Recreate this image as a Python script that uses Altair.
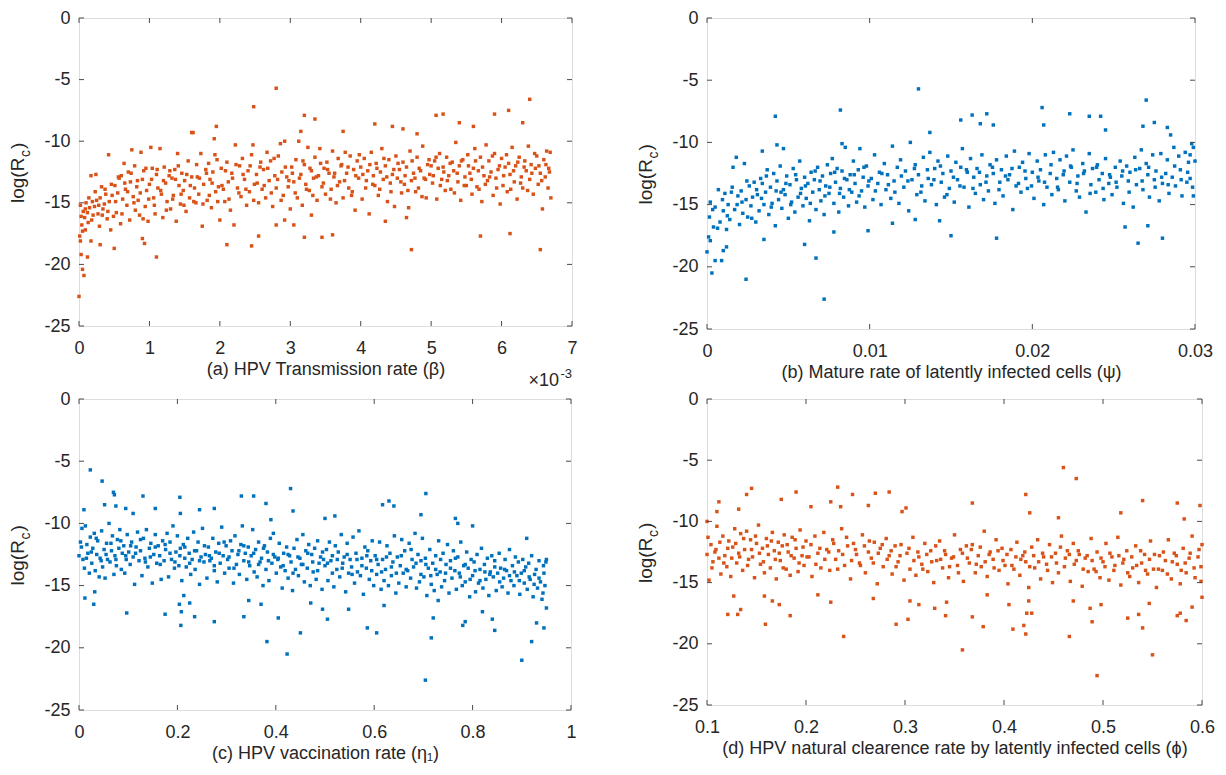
import altair as alt
import pandas as pd

FONT = "Liberation Sans"
TXT = "#262626"
AXC = "#4a4a4a"
ORANGE = "#D95319"
BLUE = "#0072BD"

Y_TICKS = [-25, -20, -15, -10, -5, 0]
A_XTICKS = [0, 1, 2, 3, 4, 5, 6, 7]
B_XTICKS = [0, 0.01, 0.02, 0.03]
C_XTICKS = [0, 0.2, 0.4, 0.6, 0.8, 1]
D_XTICKS = [0.1, 0.2, 0.3, 0.4, 0.5, 0.6]

A_TITLE = "(a) HPV Transmission rate (β)"
B_TITLE = "(b) Mature rate of latently infected cells (ψ)"
C_TITLE = "(c) HPV vaccination rate (η₁)"
D_TITLE = "(d) HPV natural clearence rate by latently infected cells (ϕ)"
Y_MAIN = "log(R"
Y_SUB = "c"
Y_CLOSE = ")"
A_SCALE_MAIN = "×10"
A_SCALE_EXP = "-3"

# panel (a): x in units of 1e-3
A_POINTS = [
    (0.02,-15.2),(0.03,-16.1),(0.05,-17.3),(0.06,-15.7),(0.08,-16.2),(0.1,-15.0),(0.12,-15.8),(0.13,-16.6),(0.15,-15.4),(0.17,-12.8),
    (0.19,-14.9),(0.2,-16.0),(0.22,-15.3),(0.24,-12.7),(0.25,-14.8),(0.27,-15.9),(0.29,-16.9),(0.3,-14.6),(0.32,-13.7),(0.34,-15.5),
    (0.36,-15.1),(0.38,-14.3),(0.4,-16.3),(0.42,-11.1),(0.43,-14.9),(0.45,-17.2),(0.47,-14.4),(0.49,-16.1),
    (0.51,-13.6),(0.53,-15.8),(0.55,-14.2),(0.57,-13.0),(0.59,-16.7),(0.6,-12.8),(0.62,-14.7),(0.64,-11.8),(0.66,-13.9),(0.68,-15.2),
    (0.7,-12.5),(0.72,-16.4),(0.73,-13.3),(0.75,-10.7),(0.77,-14.5),(0.79,-12.0),(0.8,-15.6),(0.82,-13.7),(0.84,-14.8),(0.86,-16.0),
    (0.88,-10.9),(0.9,-13.1),(0.92,-12.4),(0.94,-15.3),(0.96,-14.0),(0.98,-16.5),
    (1.0,-13.5),(1.02,-10.5),(1.04,-12.2),(1.06,-14.6),(1.08,-15.9),(1.1,-12.7),(1.12,-13.8),(1.15,-10.6),(1.17,-14.3),(1.19,-16.2),
    (1.21,-12.1),(1.23,-13.4),(1.25,-14.9),(1.28,-12.8),(1.3,-15.5),(1.32,-13.0),(1.34,-14.4),(1.36,-12.3),(1.38,-16.5),(1.4,-11.0),
    (1.42,-13.6),(1.44,-15.1),(1.46,-12.6),(1.48,-14.0),
    (1.5,-13.2),(1.52,-15.7),(1.55,-11.6),(1.57,-14.6),(1.6,-12.9),(1.62,-9.3),(1.64,-13.8),(1.66,-15.0),(1.68,-12.9),(1.7,-14.3),
    (1.73,-11.0),(1.75,-16.9),(1.77,-13.5),(1.8,-12.3),(1.82,-14.8),(1.84,-11.8),(1.86,-13.1),(1.88,-15.4),(1.9,-12.5),(1.92,-9.8),
    (1.94,-14.1),(1.96,-11.5),(1.98,-13.7),
    (2.0,-16.4),(2.02,-12.2),(2.05,-13.9),(2.07,-14.9),(2.1,-11.7),(2.12,-13.3),(2.15,-15.6),(2.17,-12.6),(2.2,-16.8),(2.22,-10.3),
    (2.25,-13.8),(2.28,-12.0),(2.3,-14.5),(2.32,-11.4),(2.35,-13.1),(2.38,-15.2),(2.4,-12.4),(2.42,-14.1),(2.45,-11.1),(2.47,-10.3),(2.49,-13.5),
    (2.52,-12.7),(2.55,-15.0),(2.58,-11.7),(2.6,-13.9),(2.62,-12.3),(2.65,-14.6),(2.67,-10.9),(2.7,-13.2),(2.72,-11.6),(2.75,-15.3),
    (2.78,-12.8),(2.8,-13.8),(2.83,-11.2),(2.86,-10.2),(2.88,-12.5),(2.9,-14.4),(2.92,-10.0),(2.95,-12.9),(2.97,-13.7),
    (3.0,-15.5),(3.02,-12.1),(3.05,-13.3),(3.08,-11.5),(3.1,-14.6),(3.12,-10.0),(3.15,-12.7),(3.17,-15.2),(3.2,-11.9),(3.22,-13.5),
    (3.25,-10.5),(3.27,-14.0),(3.3,-12.4),(3.33,-13.0),(3.35,-11.3),(3.38,-14.8),(3.4,-12.8),(3.42,-10.6),(3.45,-13.7),(3.48,-12.2),
    (3.5,-14.3),(3.52,-11.7),(3.55,-12.6),(3.58,-13.9),(3.6,-10.8),(3.62,-12.9),(3.65,-15.0),(3.68,-11.4),(3.7,-13.3),(3.72,-12.0),
    (3.75,-14.6),(3.78,-10.9),(3.8,-12.6),(3.83,-13.8),(3.85,-11.2),(3.88,-14.1),(3.9,-12.3),(3.92,-15.6),(3.95,-11.6),(3.97,-13.0),
    (4.0,-12.1),(4.02,-14.7),(4.05,-11.4),(4.08,-13.2),(4.1,-12.4),(4.12,-15.9),(4.15,-10.9),(4.18,-12.8),(4.2,-13.6),(4.22,-11.8),
    (4.25,-14.4),(4.28,-12.5),(4.3,-10.6),(4.32,-13.1),(4.35,-12.0),(4.38,-14.9),(4.4,-11.5),(4.42,-13.4),(4.45,-12.7),(4.48,-15.3),
    (4.5,-11.2),(4.52,-13.0),(4.55,-12.3),(4.58,-14.2),(4.6,-11.7),(4.62,-13.5),(4.65,-12.1),(4.68,-15.4),(4.7,-10.8),(4.72,-13.2),
    (4.75,-12.6),(4.78,-14.1),(4.8,-11.3),(4.82,-13.8),(4.85,-12.4),(4.88,-10.4),(4.9,-13.0),(4.93,-14.6),(4.95,-11.9),(4.98,-12.7),
    (5.0,-12.0),(5.02,-13.4),(5.05,-11.6),(5.08,-14.7),(5.1,-12.2),(5.12,-11.0),(5.15,-13.1),(5.18,-12.5),(5.2,-14.0),(5.22,-11.3),
    (5.25,-12.8),(5.28,-13.9),(5.3,-11.7),(5.32,-12.4),(5.35,-10.1),(5.38,-13.3),(5.4,-12.0),(5.42,-14.8),(5.45,-11.5),(5.48,-12.9),
    (5.5,-13.6),(5.52,-11.1),(5.55,-12.6),(5.58,-14.3),(5.6,-12.2),(5.62,-10.6),(5.65,-13.7),(5.67,-12.4),(5.7,-11.3),(5.72,-14.9),
    (5.75,-12.8),(5.78,-10.3),(5.8,-13.2),(5.82,-11.6),(5.85,-12.5),(5.88,-14.4),(5.9,-11.0),(5.92,-13.0),(5.95,-12.3),(5.98,-15.1),
    (6.0,-11.4),(6.02,-13.6),(6.05,-12.1),(6.08,-14.1),(6.1,-11.8),(6.12,-12.7),(6.15,-10.5),(6.18,-13.3),(6.2,-12.0),(6.22,-14.7),
    (6.25,-11.3),(6.28,-12.9),(6.3,-13.8),(6.33,-11.6),(6.35,-12.4),(6.38,-10.4),(6.4,-13.1),(6.42,-11.9),(6.45,-14.3),(6.48,-12.2),
    (6.5,-11.2),(6.52,-13.5),(6.55,-12.6),(6.58,-15.5),(6.6,-11.5),(6.62,-12.9),(6.64,-10.8),(6.66,-13.8),(6.68,-12.5),(6.7,-14.6),
    (0.0,-22.6),(0.01,-17.7),(0.02,-18.1),(0.03,-19.2),(0.05,-20.4),(0.07,-20.9),(0.09,-17.2),(0.12,-19.4),(0.17,-18.1),(0.3,-18.4),
    (0.5,-18.7),(0.9,-17.9),(0.93,-18.3),(1.1,-19.4),(2.1,-18.4),(2.45,-18.5),(2.55,-17.7),(2.48,-7.2),(2.8,-5.7),(2.8,-16.8),
    (2.92,-16.4),(3.05,-16.8),(3.2,-17.8),(3.2,-7.9),(3.35,-8.2),(3.45,-17.8),(3.6,-17.6),(3.75,-9.2),(3.15,-9.2),(4.2,-8.6),
    (4.45,-8.8),(4.6,-9.0),(4.35,-16.5),(4.65,-16.2),(4.72,-18.8),(5.07,-7.9),(5.17,-7.8),(5.4,-8.5),(5.6,-8.8),(5.7,-17.7),
    (5.9,-7.8),(6.1,-7.5),(6.12,-17.5),(6.3,-8.5),(6.4,-6.6),(6.55,-18.8),(1.95,-8.8),(1.6,-9.3),(3.3,-16.0),(4.8,-9.4),
]
A_POINTS_2 = [
    (0.04,-16.8),(0.09,-15.5),(0.14,-14.6),(0.18,-16.4),(0.23,-14.1),(0.28,-15.2),(0.33,-16.0),(0.37,-13.9),(0.41,-15.7),(0.46,-13.5),
    (0.52,-14.9),(0.56,-12.9),(0.61,-15.9),(0.65,-13.4),(0.69,-14.1),(0.74,-12.6),(0.78,-15.0),(0.83,-13.2),(0.87,-14.2),(0.91,-16.3),
    (0.95,-12.2),(0.99,-14.7),(1.03,-13.1),(1.07,-15.2),(1.11,-12.3),(1.16,-14.0),(1.2,-13.2),(1.24,-15.6),(1.29,-12.4),(1.33,-14.7),
    (1.37,-13.1),(1.41,-12.0),(1.45,-14.3),(1.49,-15.2),(1.53,-12.7),(1.58,-13.6),(1.63,-14.9),(1.67,-11.9),(1.71,-13.0),(1.76,-15.1),
    (1.81,-12.6),(1.85,-14.4),(1.89,-13.4),(1.93,-11.1),(1.97,-14.9),(2.03,-13.6),(2.08,-12.4),(2.13,-14.7),(2.18,-13.0),(2.23,-11.9),
    (2.27,-14.2),(2.33,-12.7),(2.37,-13.9),(2.43,-12.0),(2.48,-14.8),(2.53,-13.4),(2.57,-12.1),(2.63,-13.6),(2.68,-12.2),(2.73,-14.2),
    (2.77,-11.4),(2.82,-13.1),(2.87,-14.8),(2.93,-12.1),(2.98,-13.2),(3.03,-12.6),(3.07,-14.2),(3.13,-13.0),(3.18,-11.6),(3.23,-13.9),
    (3.28,-12.2),(3.32,-14.4),(3.37,-12.9),(3.43,-11.8),(3.47,-13.4),(3.53,-12.3),(3.57,-14.7),(3.63,-12.6),(3.67,-13.6),(3.73,-11.9),
    (3.77,-13.2),(3.82,-12.1),(3.87,-14.4),(3.93,-12.8),(3.98,-11.1),(4.03,-12.7),(4.07,-13.8),(4.13,-11.9),(4.17,-13.5),(4.23,-12.2),
    (4.27,-13.9),(4.33,-11.4),(4.37,-12.9),(4.43,-14.1),(4.47,-12.3),(4.53,-11.8),(4.57,-13.3),(4.63,-12.8),(4.67,-14.0),(4.73,-11.6),
    (4.77,-13.0),(4.83,-12.2),(4.87,-14.5),(4.92,-13.1),(4.97,-11.5),(5.03,-12.8),(5.07,-11.3),(5.13,-13.6),(5.17,-12.1),(5.23,-13.2),
    (5.27,-11.8),(5.33,-14.2),(5.37,-12.6),(5.43,-11.6),(5.47,-13.6),(5.53,-12.0),(5.57,-13.1),(5.63,-11.6),(5.68,-13.9),(5.73,-12.1),
    (5.77,-13.5),(5.83,-12.9),(5.87,-11.2),(5.93,-13.8),(5.97,-12.0),(6.03,-12.8),(6.07,-11.1),(6.13,-13.9),(6.17,-12.4),(6.23,-11.7),
    (6.27,-13.4),(6.32,-12.1),(6.37,-14.0),(6.43,-12.6),(6.47,-11.0),(6.53,-12.0),(6.57,-13.2),(6.63,-11.9),(6.67,-12.2),(6.69,-10.9),
]

B_POINTS = [
    (0.0002,-14.8),(0.0004,-16.8),(0.0005,-15.2),(0.0007,-13.8),(0.0008,-16.4),(0.001,-15.5),(0.0011,-14.1),(0.0012,-17.0),(0.0013,-15.0),(0.0014,-16.2),
    (0.0015,-14.0),(0.0016,-12.0),(0.0017,-15.4),(0.0018,-11.2),(0.0019,-14.3),(0.002,-16.6),(0.0021,-13.9),(0.0022,-15.7),(0.0023,-11.7),(0.0024,-14.6),
    (0.0025,-16.0),(0.0026,-13.5),(0.0027,-15.1),(0.0028,-14.4),(0.0029,-13.2),(0.003,-16.4),
    (0.0031,-14.2),(0.0032,-15.5),(0.0033,-12.9),(0.0034,-13.3),(0.0035,-15.0),(0.0036,-14.0),(0.0037,-12.2),(0.0038,-15.8),(0.0039,-13.6),(0.004,-14.9),
    (0.0041,-12.5),(0.0042,-16.7),(0.0043,-13.1),(0.0044,-14.6),(0.0045,-11.9),(0.0046,-15.3),(0.0047,-13.8),(0.0048,-14.2),(0.0049,-12.7),(0.005,-16.1),
    (0.0051,-13.4),(0.0052,-14.8),(0.0053,-12.1),(0.0054,-15.6),(0.0055,-13.0),(0.0056,-14.4),(0.0057,-11.5),(0.0058,-13.7),(0.0059,-15.1),(0.006,-12.8),
    (0.0061,-14.5),(0.0062,-13.3),(0.0063,-16.3),(0.0064,-12.4),(0.0065,-14.0),(0.0066,-13.0),(0.0067,-15.4),(0.0068,-12.0),(0.0069,-13.8),(0.007,-14.7),
    (0.0071,-12.7),(0.0072,-15.8),(0.0073,-13.5),(0.0074,-11.8),(0.0075,-14.1),(0.0076,-12.5),(0.0077,-11.3),(0.0078,-14.9),(0.0079,-13.2),(0.008,-12.1),
    (0.0081,-15.6),(0.0082,-13.7),(0.0083,-12.3),(0.0084,-14.4),(0.0085,-10.4),(0.0086,-13.0),(0.0087,-15.1),(0.0088,-12.6),(0.0089,-14.0),(0.009,-11.5),
    (0.0091,-13.3),(0.0092,-14.8),(0.0093,-12.2),(0.0094,-10.5),(0.0095,-13.9),(0.0096,-12.8),(0.0097,-15.2),(0.0098,-11.9),(0.0099,-13.5),
    (0.0101,-12.9),(0.0102,-14.6),(0.0103,-11.0),(0.0105,-13.3),(0.0106,-12.4),(0.0107,-15.0),(0.0109,-11.7),(0.011,-13.8),(0.0111,-12.6),(0.0113,-14.5),
    (0.0114,-10.3),(0.0115,-13.1),(0.0117,-12.0),(0.0118,-14.9),(0.0119,-11.4),(0.0121,-13.6),(0.0122,-12.3),(0.0124,-15.5),(0.0125,-10.0),(0.0126,-13.0),
    (0.0128,-11.8),(0.0129,-14.2),(0.013,-12.6),(0.0132,-13.5),(0.0133,-11.2),(0.0134,-14.7),(0.0136,-12.9),(0.0137,-10.8),(0.0138,-13.4),(0.014,-12.1),
    (0.0141,-15.0),(0.0142,-11.5),(0.0144,-13.2),(0.0145,-12.5),(0.0146,-14.4),(0.0148,-11.1),(0.0149,-13.7),
    (0.015,-12.3),(0.0152,-14.8),(0.0153,-11.6),(0.0154,-13.0),(0.0156,-12.0),(0.0157,-10.5),(0.0158,-13.6),(0.016,-12.4),(0.0161,-15.2),(0.0162,-11.3),
    (0.0164,-12.8),(0.0165,-14.1),(0.0166,-12.1),(0.0168,-13.4),(0.0169,-11.0),(0.017,-14.6),(0.0172,-12.7),(0.0173,-13.9),(0.0174,-11.8),(0.0176,-12.5),
    (0.0177,-14.9),(0.0178,-11.4),(0.018,-13.2),(0.0181,-12.2),(0.0182,-14.3),(0.0184,-11.1),(0.0185,-13.0),(0.0186,-12.6),(0.0188,-15.4),(0.0189,-10.7),
    (0.019,-13.5),(0.0192,-12.0),(0.0193,-14.0),(0.0194,-11.6),(0.0196,-12.9),(0.0197,-13.7),(0.0198,-10.9),
    (0.02,-12.4),(0.0201,-14.5),(0.0203,-11.5),(0.0204,-13.1),(0.0205,-12.2),(0.0207,-15.0),(0.0208,-11.0),(0.0209,-13.6),(0.0211,-12.5),(0.0212,-14.2),
    (0.0213,-10.8),(0.0215,-12.9),(0.0216,-13.8),(0.0217,-11.4),(0.0219,-12.6),(0.022,-14.7),(0.0221,-11.1),(0.0223,-13.2),(0.0224,-12.0),(0.0225,-10.6),
    (0.0227,-13.9),(0.0228,-12.7),(0.0229,-14.4),(0.0231,-11.7),(0.0232,-12.3),(0.0233,-15.6),(0.0235,-10.9),(0.0236,-13.4),(0.0237,-12.1),(0.0239,-14.0),
    (0.024,-11.8),(0.0241,-13.0),(0.0243,-12.5),(0.0244,-14.6),(0.0245,-11.3),(0.0247,-13.3),(0.0248,-12.8),(0.0249,-14.2),
    (0.0251,-12.0),(0.0252,-13.6),(0.0254,-11.5),(0.0255,-12.7),(0.0256,-14.9),(0.0258,-11.9),(0.0259,-13.1),(0.026,-12.4),(0.0262,-15.2),(0.0263,-11.2),
    (0.0264,-13.4),(0.0266,-12.1),(0.0267,-10.6),(0.0268,-13.8),(0.027,-11.7),(0.0271,-12.6),(0.0272,-14.4),(0.0274,-11.0),(0.0275,-13.0),(0.0276,-12.3),
    (0.0278,-14.7),(0.0279,-10.9),(0.028,-13.3),(0.0282,-12.5),(0.0283,-11.4),(0.0284,-14.1),(0.0286,-12.8),(0.0287,-10.4),(0.0288,-13.5),(0.029,-11.1),
    (0.0291,-12.2),(0.0292,-14.3),(0.0294,-10.8),(0.0295,-13.2),(0.0296,-11.6),(0.0297,-12.9),(0.0298,-10.1),(0.0299,-14.3),(0.03,-11.5),
    (0.0,-18.8),(0.0001,-17.6),(0.0002,-17.9),(0.0003,-20.5),(0.0005,-19.5),(0.0009,-19.5),(0.001,-18.7),(0.0012,-18.4),(0.0024,-21.0),(0.0035,-17.8),
    (0.006,-18.2),(0.0067,-19.3),(0.0072,-22.6),(0.0078,-17.2),(0.0099,-17.1),(0.0114,-16.5),(0.015,-17.5),(0.0178,-17.7),(0.0257,-16.8),(0.0265,-18.1),
    (0.028,-17.7),(0.0271,-16.7),(0.0042,-7.9),(0.0043,-10.2),(0.0047,-10.5),(0.0034,-10.7),(0.0082,-7.4),(0.0083,-10.1),(0.013,-5.7),(0.0137,-9.2),
    (0.0156,-8.2),(0.0163,-7.8),(0.0168,-8.5),(0.0172,-7.7),(0.0176,-8.6),(0.0206,-7.2),(0.0207,-8.6),(0.0223,-7.7),(0.0235,-7.9),(0.0242,-7.9),
    (0.0245,-9.0),(0.027,-6.6),(0.0268,-8.7),(0.0275,-8.4),(0.0283,-8.8),(0.0285,-9.4),(0.0128,-16.2),(0.0143,-16.3),
]
B_POINTS_2 = [
    (0.00015,-16.0),(0.00035,-15.4),(0.00065,-16.9),(0.00095,-14.6),(0.00125,-15.9),(0.00155,-13.6),(0.00185,-15.0),(0.00215,-14.8),(0.00245,-13.1),(0.00275,-16.1),
    (0.00305,-13.8),(0.00335,-14.5),(0.00365,-12.7),(0.00395,-15.2),(0.00425,-13.9),(0.00455,-14.0),(0.00485,-13.3),(0.00515,-15.0),(0.00545,-12.6),(0.00575,-14.1),
    (0.00605,-13.5),(0.00635,-14.9),(0.00665,-12.3),(0.00695,-13.1),(0.00725,-14.3),(0.00755,-13.6),(0.00785,-12.4),(0.00815,-14.1),(0.00845,-12.9),(0.00875,-13.8),
    (0.00905,-12.6),(0.00935,-14.3),(0.00965,-12.0),(0.00995,-13.1),(0.01035,-13.9),(0.01075,-12.5),(0.01115,-13.4),(0.01155,-14.0),(0.01195,-12.7),(0.01235,-13.1),
    (0.01275,-12.1),(0.01315,-14.0),(0.01355,-12.2),(0.01395,-13.0),(0.01435,-11.9),(0.01475,-14.2),(0.01515,-12.8),(0.01555,-13.5),(0.01595,-12.2),(0.01635,-13.7),
    (0.01675,-12.4),(0.01715,-13.2),(0.01755,-12.0),(0.01795,-13.8),(0.01835,-12.7),(0.01875,-12.1),(0.01915,-13.3),(0.01955,-12.3),(0.01995,-13.5),(0.02035,-12.8),
    (0.02075,-13.2),(0.02115,-11.8),(0.02155,-13.6),(0.02195,-12.3),(0.02235,-11.9),(0.02275,-13.3),(0.02315,-12.5),(0.02355,-14.1),(0.02395,-12.0),(0.02435,-13.7),
    (0.02475,-12.6),(0.02515,-13.2),(0.02555,-12.3),(0.02595,-14.0),(0.02635,-12.2),(0.02675,-13.1),(0.02715,-12.0),(0.02755,-13.6),(0.02795,-12.8),(0.02835,-13.4),
    (0.02875,-11.9),(0.02915,-13.0),(0.02955,-12.4),(0.02985,-13.6),(0.0299,-10.4),(0.0297,-11.0),
]

C_POINTS = [
    (0.0,-12.6),(0.003,-11.5),(0.006,-10.4),(0.008,-12.9),(0.011,-13.6),(0.013,-10.2),(0.016,-11.7),(0.018,-12.4),(0.021,-14.0),(0.023,-11.1),
    (0.026,-13.2),(0.028,-12.0),(0.031,-10.8),(0.033,-13.8),(0.036,-12.5),(0.038,-11.4),(0.041,-14.3),(0.043,-12.8),(0.046,-10.6),(0.048,-13.5),
    (0.051,-12.1),(0.053,-14.4),(0.056,-11.6),(0.058,-12.9),(0.061,-10.0),(0.063,-13.1),(0.066,-12.2),(0.068,-11.0),(0.071,-14.1),(0.073,-12.6),
    (0.076,-13.4),(0.078,-11.3),(0.081,-12.0),(0.083,-10.5),(0.086,-13.7),(0.088,-12.4),(0.091,-11.8),(0.093,-14.0),(0.096,-12.9),(0.098,-10.9),
    (0.101,-12.3),(0.104,-13.3),(0.107,-11.5),(0.11,-12.7),(0.113,-14.9),(0.116,-11.9),(0.119,-10.7),(0.122,-13.0),(0.125,-12.2),(0.128,-14.2),
    (0.131,-11.2),(0.134,-12.8),(0.137,-10.5),(0.14,-13.5),(0.143,-12.0),(0.146,-11.6),(0.149,-14.8),(0.152,-12.5),(0.155,-10.9),(0.158,-13.2),
    (0.161,-11.8),(0.164,-12.6),(0.167,-14.5),(0.17,-11.4),(0.173,-13.0),(0.176,-12.1),(0.179,-10.8),(0.182,-14.3),(0.185,-11.5),(0.188,-12.9),
    (0.191,-10.2),(0.194,-13.6),(0.197,-12.3),
    (0.2,-11.0),(0.203,-13.4),(0.206,-12.0),(0.209,-14.6),(0.212,-11.7),(0.215,-12.8),(0.218,-13.5),(0.221,-11.2),(0.224,-12.4),(0.227,-14.1),
    (0.23,-12.9),(0.233,-10.7),(0.236,-13.7),(0.239,-12.2),(0.242,-11.5),(0.245,-14.9),(0.248,-12.7),(0.251,-10.4),(0.254,-13.1),(0.257,-12.5),
    (0.26,-14.4),(0.263,-11.9),(0.266,-13.0),(0.269,-12.8),(0.272,-11.2),(0.275,-13.8),(0.278,-12.3),(0.281,-14.7),(0.284,-11.6),(0.287,-13.2),
    (0.29,-10.3),(0.293,-12.6),(0.296,-14.0),(0.299,-11.8),
    (0.302,-12.9),(0.305,-13.6),(0.308,-11.4),(0.311,-12.2),(0.314,-14.8),(0.317,-11.0),(0.32,-13.3),(0.323,-12.5),(0.326,-14.1),(0.329,-11.7),
    (0.332,-10.2),(0.335,-13.0),(0.338,-12.4),(0.341,-14.5),(0.344,-11.9),(0.347,-13.4),(0.35,-12.6),(0.353,-10.5),(0.356,-13.9),(0.359,-12.1),
    (0.362,-14.3),(0.365,-11.5),(0.368,-13.1),(0.371,-12.8),(0.374,-15.0),(0.377,-11.8),(0.38,-13.7),(0.383,-12.3),(0.386,-14.6),(0.389,-11.2),
    (0.392,-13.2),(0.395,-10.8),(0.398,-12.7),
    (0.401,-14.0),(0.404,-12.9),(0.407,-11.6),(0.41,-13.5),(0.413,-15.2),(0.416,-12.4),(0.419,-13.8),(0.422,-11.9),(0.425,-14.4),(0.428,-12.6),
    (0.431,-13.1),(0.434,-15.4),(0.437,-12.0),(0.44,-13.7),(0.443,-11.3),(0.446,-14.2),(0.449,-12.8),(0.452,-13.3),(0.455,-10.9),(0.458,-14.7),
    (0.461,-12.2),(0.464,-13.6),(0.467,-11.7),(0.47,-15.0),(0.473,-12.5),(0.476,-13.9),(0.479,-12.0),(0.482,-14.5),(0.485,-11.4),(0.488,-13.2),
    (0.491,-12.7),(0.494,-15.3),(0.497,-12.9),
    (0.5,-13.4),(0.503,-12.1),(0.506,-14.6),(0.509,-11.5),(0.512,-13.0),(0.515,-12.6),(0.518,-15.1),(0.521,-11.8),(0.524,-13.7),(0.527,-12.3),
    (0.53,-14.3),(0.533,-10.9),(0.536,-13.2),(0.539,-12.7),(0.542,-15.5),(0.545,-11.6),(0.548,-14.0),(0.551,-12.9),(0.554,-13.5),(0.557,-11.1),
    (0.56,-14.8),(0.563,-12.4),(0.566,-13.9),(0.569,-10.6),(0.572,-14.2),(0.575,-12.8),(0.578,-15.7),(0.581,-11.9),(0.584,-13.6),(0.587,-12.2),
    (0.59,-14.5),(0.593,-13.0),(0.596,-11.4),(0.599,-15.0),
    (0.602,-12.6),(0.605,-14.1),(0.608,-13.3),(0.611,-11.5),(0.614,-15.3),(0.617,-12.9),(0.62,-14.6),(0.623,-13.7),(0.626,-11.8),(0.629,-15.0),
    (0.632,-12.4),(0.635,-14.2),(0.638,-13.1),(0.641,-11.0),(0.644,-15.6),(0.647,-12.7),(0.65,-14.8),(0.653,-13.4),(0.656,-11.3),(0.659,-14.0),
    (0.662,-12.2),(0.665,-15.1),(0.668,-13.8),(0.671,-11.6),(0.674,-14.4),(0.677,-12.9),(0.68,-13.5),(0.683,-10.8),(0.686,-15.2),(0.689,-12.5),
    (0.692,-14.7),(0.695,-13.0),(0.698,-11.2),
    (0.701,-14.3),(0.704,-12.8),(0.707,-15.8),(0.71,-13.6),(0.713,-12.1),(0.716,-14.9),(0.719,-13.2),(0.722,-15.4),(0.725,-12.6),(0.728,-14.1),
    (0.731,-11.4),(0.734,-13.9),(0.737,-15.1),(0.74,-12.4),(0.743,-14.6),(0.746,-13.3),(0.749,-11.7),(0.752,-15.6),(0.755,-13.0),(0.758,-14.4),
    (0.761,-12.2),(0.764,-13.8),(0.767,-15.3),(0.77,-12.7),(0.773,-14.0),(0.776,-11.5),(0.779,-15.0),(0.782,-13.4),(0.785,-14.7),(0.788,-12.3),
    (0.791,-13.6),(0.794,-15.9),(0.797,-12.9),
    (0.8,-14.2),(0.803,-13.1),(0.806,-15.5),(0.809,-12.5),(0.812,-14.8),(0.815,-13.7),(0.818,-12.0),(0.821,-15.2),(0.824,-13.3),(0.827,-14.5),
    (0.83,-12.8),(0.833,-15.8),(0.836,-13.9),(0.839,-12.6),(0.842,-14.3),(0.845,-13.0),(0.848,-15.4),(0.851,-14.0),(0.854,-12.4),(0.857,-13.6),
    (0.86,-15.1),(0.863,-14.4),(0.866,-12.9),(0.869,-13.8),(0.872,-15.6),(0.875,-12.1),(0.878,-14.6),(0.881,-13.4),(0.884,-15.0),(0.887,-12.7),
    (0.89,-14.2),(0.893,-13.1),(0.896,-15.7),(0.899,-14.0),(0.902,-12.9),(0.905,-14.8),(0.908,-13.5),(0.911,-15.3),(0.914,-13.2),(0.917,-14.5),
    (0.92,-12.6),(0.923,-15.9),(0.926,-14.1),(0.929,-13.7),(0.932,-15.2),(0.935,-13.0),(0.938,-14.7),(0.941,-16.1),(0.944,-13.4),(0.947,-15.0),(0.95,-12.9),
    (0.023,-5.7),(0.047,-6.6),(0.07,-7.5),(0.072,-7.7),(0.13,-7.8),(0.052,-8.5),(0.075,-8.6),(0.095,-8.8),(0.01,-8.9),(0.11,-9.2),
    (0.155,-8.8),(0.205,-7.9),(0.206,-9.2),(0.245,-8.9),(0.275,-8.8),(0.33,-7.8),(0.355,-7.8),(0.38,-8.4),(0.43,-7.2),(0.435,-9.0),
    (0.39,-9.7),(0.5,-9.6),(0.52,-9.4),(0.617,-8.5),(0.63,-8.2),(0.64,-8.6),(0.705,-7.6),(0.695,-9.3),(0.765,-9.6),(0.77,-10.0),
    (0.91,-11.2),(0.8,-10.2),
    (0.012,-16.0),(0.03,-16.5),(0.032,-15.5),(0.097,-17.2),(0.175,-17.3),(0.204,-16.5),(0.207,-18.2),(0.208,-17.1),(0.213,-15.8),(0.235,-17.5),
    (0.225,-16.4),(0.275,-17.9),(0.335,-17.5),(0.345,-16.2),(0.37,-16.5),(0.382,-19.5),(0.405,-17.6),(0.423,-20.5),(0.45,-18.8),(0.471,-16.4),
    (0.495,-16.9),(0.505,-17.7),(0.548,-16.9),(0.586,-18.4),(0.605,-18.8),(0.62,-16.6),(0.704,-22.6),(0.716,-19.2),(0.72,-17.6),(0.73,-16.2),
    (0.78,-18.2),(0.785,-17.9),(0.82,-17.1),(0.84,-17.7),(0.845,-18.6),(0.9,-21.0),(0.92,-19.5),(0.93,-18.0),(0.945,-18.4),(0.95,-16.8),
]
C_POINTS_2 = [
    (0.005,-11.9),(0.015,-12.8),(0.025,-12.3),(0.035,-11.2),(0.045,-13.0),(0.055,-12.5),(0.065,-11.6),(0.075,-12.9),(0.085,-11.4),(0.095,-12.6),
    (0.105,-11.8),(0.115,-12.4),(0.125,-11.3),(0.135,-13.1),(0.145,-12.7),(0.155,-11.9),(0.165,-13.3),(0.175,-11.7),(0.185,-12.4),(0.195,-13.1),
    (0.205,-12.6),(0.215,-11.9),(0.225,-13.2),(0.235,-12.2),(0.245,-13.0),(0.255,-11.8),(0.265,-12.6),(0.275,-13.4),(0.285,-12.4),(0.295,-11.5),
    (0.305,-12.7),(0.315,-13.6),(0.325,-12.2),(0.335,-11.8),(0.345,-13.1),(0.355,-12.4),(0.365,-13.3),(0.375,-12.0),(0.385,-13.0),(0.395,-12.5),
    (0.405,-12.8),(0.415,-13.4),(0.425,-12.5),(0.435,-14.0),(0.445,-12.7),(0.455,-13.3),(0.465,-12.4),(0.475,-13.1),(0.485,-13.8),(0.495,-12.3),
    (0.505,-13.2),(0.515,-14.0),(0.525,-12.9),(0.535,-13.6),(0.545,-12.5),(0.555,-14.1),(0.565,-12.9),(0.575,-13.4),(0.585,-12.6),(0.595,-13.8),
    (0.605,-12.9),(0.615,-13.9),(0.625,-12.7),(0.635,-13.5),(0.645,-14.0),(0.655,-12.6),(0.665,-13.7),(0.675,-12.1),(0.685,-13.2),(0.695,-14.1),
    (0.705,-13.3),(0.715,-14.2),(0.725,-13.7),(0.735,-12.9),(0.745,-14.0),(0.755,-13.6),(0.765,-12.8),(0.775,-14.3),(0.785,-13.3),(0.795,-14.5),
    (0.805,-13.8),(0.815,-14.6),(0.825,-13.9),(0.835,-14.1),(0.845,-13.5),(0.855,-14.7),(0.865,-13.7),(0.875,-14.2),(0.885,-13.9),(0.895,-14.6),
    (0.905,-13.8),(0.915,-14.3),(0.925,-14.9),(0.935,-14.4),(0.945,-14.0),(0.949,-13.1),(0.943,-15.6),
]

D_POINTS = [
    (0.1,-12.7),(0.102,-14.8),(0.104,-11.9),(0.106,-13.3),(0.108,-12.5),(0.11,-10.4),(0.112,-13.0),(0.114,-14.3),(0.116,-11.2),(0.118,-12.8),
    (0.12,-13.7),(0.122,-11.6),(0.124,-14.5),(0.126,-12.1),(0.128,-10.6),(0.13,-13.4),(0.132,-12.6),(0.134,-11.0),(0.136,-14.0),(0.138,-12.3),
    (0.14,-10.8),(0.142,-13.1),(0.144,-11.5),(0.146,-12.9),(0.148,-14.6),(0.15,-11.8),(0.152,-10.3),(0.154,-13.5),(0.156,-12.2),(0.158,-14.2),
    (0.16,-11.4),(0.162,-12.7),(0.164,-13.8),(0.166,-10.9),(0.168,-12.4),(0.17,-14.7),(0.172,-11.7),(0.174,-13.2),(0.176,-12.0),(0.178,-11.1),
    (0.18,-13.9),(0.182,-12.5),(0.184,-14.4),(0.186,-11.3),(0.188,-13.0),(0.19,-12.2),(0.192,-14.1),(0.194,-10.7),(0.196,-12.8),(0.198,-13.6),
    (0.2,-11.6),(0.203,-12.9),(0.206,-14.5),(0.209,-11.2),(0.212,-12.6),(0.215,-13.8),(0.218,-10.9),(0.221,-12.3),(0.224,-14.0),(0.227,-11.5),
    (0.23,-13.1),(0.233,-12.4),(0.236,-10.6),(0.239,-13.6),(0.242,-12.0),(0.245,-14.7),(0.248,-11.8),(0.251,-12.7),(0.254,-13.4),(0.257,-11.1),
    (0.26,-14.2),(0.263,-12.5),(0.266,-13.0),(0.269,-11.7),(0.272,-15.1),(0.275,-12.2),(0.278,-13.7),(0.281,-11.4),(0.284,-12.8),(0.287,-14.3),
    (0.29,-12.0),(0.293,-13.3),(0.296,-11.9),(0.299,-14.8),
    (0.302,-12.6),(0.305,-13.9),(0.308,-11.3),(0.311,-14.4),(0.314,-12.9),(0.317,-13.5),(0.32,-11.8),(0.323,-14.1),(0.326,-12.4),(0.329,-15.0),
    (0.332,-13.2),(0.335,-11.6),(0.338,-13.8),(0.341,-12.7),(0.344,-14.6),(0.347,-13.0),(0.35,-11.1),(0.353,-13.6),(0.356,-12.3),(0.359,-14.9),
    (0.362,-12.0),(0.365,-13.4),(0.368,-11.9),(0.371,-14.2),(0.374,-12.8),(0.377,-13.7),(0.38,-10.8),(0.383,-14.5),(0.386,-12.5),(0.389,-13.1),
    (0.392,-11.5),(0.395,-14.0),(0.398,-12.2),
    (0.401,-13.6),(0.404,-15.1),(0.407,-12.3),(0.41,-13.9),(0.413,-11.7),(0.416,-14.4),(0.419,-12.8),(0.422,-13.3),(0.425,-15.4),(0.428,-12.1),
    (0.431,-13.8),(0.434,-11.5),(0.437,-14.7),(0.44,-12.9),(0.443,-13.5),(0.446,-11.9),(0.449,-15.0),(0.452,-12.6),(0.455,-14.2),(0.458,-11.2),
    (0.461,-13.7),(0.464,-12.4),(0.467,-14.9),(0.47,-11.8),(0.473,-13.2),(0.476,-12.7),(0.479,-15.3),(0.482,-13.0),(0.485,-14.1),(0.488,-11.4),
    (0.491,-13.9),(0.494,-12.5),(0.497,-14.6),
    (0.5,-13.3),(0.503,-11.8),(0.506,-14.8),(0.509,-12.9),(0.512,-13.6),(0.515,-11.3),(0.518,-15.2),(0.521,-13.1),(0.524,-12.4),(0.527,-14.5),
    (0.53,-13.8),(0.533,-12.0),(0.536,-15.0),(0.539,-13.4),(0.542,-12.7),(0.545,-14.3),(0.548,-11.6),(0.551,-13.9),(0.554,-15.4),(0.557,-12.8),
    (0.56,-14.0),(0.563,-13.2),(0.566,-11.5),(0.569,-14.7),(0.572,-12.6),(0.575,-13.5),(0.578,-15.1),(0.581,-12.2),(0.584,-14.2),(0.587,-13.0),
    (0.59,-11.2),(0.593,-14.6),(0.596,-12.9),(0.599,-13.7),(0.6,-11.9),
    (0.145,-7.3),(0.14,-7.8),(0.175,-8.2),(0.19,-7.6),(0.205,-8.8),(0.225,-8.4),(0.232,-7.2),(0.235,-8.8),(0.247,-7.8),(0.263,-8.7),
    (0.27,-7.7),(0.284,-7.6),(0.297,-9.2),(0.301,-8.9),(0.368,-8.5),(0.422,-7.8),(0.426,-9.3),(0.46,-5.6),(0.473,-6.5),(0.455,-9.7),
    (0.54,-8.3),(0.575,-8.5),(0.598,-8.7),(0.518,-9.3),(0.582,-9.8),(0.112,-8.4),(0.11,-9.2),(0.132,-9.0),(0.1,-10.0),
    (0.159,-18.4),(0.121,-17.6),(0.131,-17.6),(0.134,-17.2),(0.184,-17.7),(0.173,-16.8),(0.127,-16.1),(0.158,-16.1),(0.166,-16.5),(0.238,-19.4),
    (0.225,-16.6),(0.212,-16.0),(0.268,-16.3),(0.291,-18.4),(0.303,-18.0),(0.305,-16.5),(0.314,-16.8),(0.33,-17.1),(0.341,-17.7),(0.342,-16.6),
    (0.358,-20.5),(0.368,-17.8),(0.379,-18.6),(0.383,-16.0),(0.405,-16.8),(0.409,-18.8),(0.42,-18.5),(0.422,-19.2),(0.423,-17.5),(0.425,-16.5),
    (0.428,-17.5),(0.466,-19.4),(0.47,-16.5),(0.487,-17.1),(0.489,-18.2),(0.494,-22.6),(0.498,-16.8),(0.55,-20.9),(0.54,-18.7),(0.525,-17.9),
    (0.536,-17.6),(0.5467,-16.7),(0.575,-17.7),(0.578,-17.5),(0.584,-18.1),(0.59,-17.0),(0.6,-16.2),
]
D_POINTS_2 = [
    (0.101,-11.3),(0.105,-13.8),(0.109,-12.3),(0.113,-11.7),(0.117,-13.4),(0.121,-12.2),(0.125,-13.0),(0.129,-11.8),(0.133,-12.9),(0.137,-11.4),
    (0.141,-13.6),(0.145,-12.3),(0.149,-11.2),(0.153,-12.6),(0.157,-13.3),(0.161,-12.0),(0.165,-11.6),(0.169,-13.1),(0.173,-12.6),(0.177,-13.8),
    (0.181,-11.9),(0.185,-12.8),(0.189,-11.5),(0.193,-13.4),(0.197,-12.1),(0.201,-12.9),(0.205,-11.9),(0.21,-13.5),(0.214,-12.2),(0.219,-13.1),
    (0.223,-12.5),(0.228,-11.8),(0.232,-13.9),(0.237,-12.7),(0.241,-11.3),(0.246,-13.2),(0.25,-12.3),(0.255,-13.6),(0.259,-12.0),(0.264,-11.6),
    (0.268,-13.4),(0.273,-12.6),(0.277,-11.9),(0.282,-13.1),(0.286,-12.4),(0.291,-13.7),(0.295,-12.8),(0.304,-12.2),(0.309,-13.2),(0.313,-12.5),
    (0.318,-13.9),(0.322,-12.7),(0.327,-13.3),(0.331,-12.0),(0.336,-13.1),(0.34,-12.4),(0.345,-13.7),(0.349,-12.9),(0.354,-14.2),(0.358,-12.6),
    (0.363,-13.0),(0.367,-12.3),(0.372,-13.5),(0.376,-12.1),(0.381,-13.3),(0.385,-12.7),(0.39,-13.8),(0.394,-12.4),(0.399,-13.2),(0.403,-12.7),
    (0.408,-13.6),(0.412,-12.9),(0.417,-13.1),(0.421,-12.5),(0.426,-13.7),(0.43,-12.8),(0.435,-13.3),(0.439,-12.6),(0.444,-14.0),(0.448,-12.9),
    (0.453,-13.4),(0.457,-12.1),(0.462,-13.0),(0.466,-12.7),(0.471,-13.5),(0.475,-12.4),(0.48,-13.9),(0.484,-12.8),(0.489,-13.2),(0.493,-14.1),
    (0.498,-13.0),(0.502,-13.7),(0.507,-12.6),(0.511,-14.0),(0.516,-12.8),(0.52,-13.4),(0.525,-14.2),(0.529,-12.9),(0.534,-13.6),(0.538,-12.4),
    (0.543,-14.0),(0.547,-13.1),(0.552,-12.7),(0.556,-13.9),(0.561,-12.5),(0.565,-14.3),(0.57,-13.3),(0.574,-12.8),(0.579,-14.0),(0.583,-13.4),
    (0.588,-12.6),(0.592,-13.8),(0.597,-12.3),(0.599,-14.9),
]

LABEL_FS = 18
TITLE_FS = 18


def panel(points, color, xdom, xticks, xtitle, w, h, extra=()):
    df = pd.DataFrame(points, columns=["x", "y"])
    xs = alt.Scale(domain=xdom, nice=False, zero=False)
    ys = alt.Scale(domain=[-25, 0], nice=False, zero=False)
    xaxis = alt.Axis(values=xticks, format="~g", title=xtitle, grid=False, domain=False,
                     ticks=False, tickSize=0, labelPadding=13, labelFontSize=LABEL_FS,
                     labelFont=FONT, labelColor=TXT, titleFont=FONT, titleFontSize=TITLE_FS,
                     titleFontWeight="normal", titleColor=TXT, titlePadding=3, labelFlush=False)
    yaxis = alt.Axis(values=Y_TICKS, labelExpr="replace(datum.label, '\u2212', '-')", title="",
                     grid=False, domain=False, ticks=False, tickSize=0, labelPadding=9,
                     labelFontSize=LABEL_FS, labelFont=FONT, labelColor=TXT, labelFlush=False)
    pts = alt.Chart(df).mark_square(size=12, color=color, opacity=1, strokeWidth=0).encode(
        x=alt.X("x:Q", scale=xs, axis=xaxis),
        y=alt.Y("y:Q", scale=ys, axis=yaxis),
    )
    yt = pd.DataFrame({"v": Y_TICKS})
    xt = pd.DataFrame({"v": xticks})
    rule = dict(color=AXC, strokeWidth=1)
    ytl = alt.Chart(yt).mark_rule(**rule).encode(y=alt.Y("v:Q", scale=ys, axis=yaxis), x=alt.value(0), x2=alt.value(5))
    ytr = alt.Chart(yt).mark_rule(**rule).encode(y=alt.Y("v:Q", scale=ys, axis=yaxis), x=alt.value(w - 5), x2=alt.value(w))
    xtb = alt.Chart(xt).mark_rule(**rule).encode(x=alt.X("v:Q", scale=xs, axis=xaxis), y=alt.value(h - 5), y2=alt.value(h))
    xtt = alt.Chart(xt).mark_rule(**rule).encode(x=alt.X("v:Q", scale=xs, axis=xaxis), y=alt.value(0), y2=alt.value(5))

    def txt(s, fs, xv, yv, angle=0, align="left"):
        return alt.Chart(pd.DataFrame({"t": [s]})).mark_text(
            font=FONT, fontSize=fs, color=TXT, angle=angle, align=align, baseline="alphabetic"
        ).encode(text="t:N", x=alt.value(xv), y=alt.value(yv))

    c = h / 2
    ylab = [
        txt(Y_MAIN, 19, -55, c + 31, angle=270),
        txt(Y_SUB, 14, -49, c - 15, angle=270),
        txt(Y_CLOSE, 19, -55, c - 23, angle=270),
    ]
    layers = [pts, ytl, ytr, xtb, xtt] + ylab + list(extra)
    return alt.layer(*layers).properties(width=w, height=h)


def scale_label(w, h):
    return [
        alt.Chart(pd.DataFrame({"t": [A_SCALE_MAIN]})).mark_text(
            font=FONT, fontSize=18, color=TXT, align="right", baseline="alphabetic"
        ).encode(text="t:N", x=alt.value(w - 13), y=alt.value(h + 60)),
        alt.Chart(pd.DataFrame({"t": [A_SCALE_EXP]})).mark_text(
            font=FONT, fontSize=13, color=TXT, align="right", baseline="alphabetic"
        ).encode(text="t:N", x=alt.value(w), y=alt.value(h + 52)),
    ]


pa = panel(A_POINTS + A_POINTS_2, ORANGE, [0, 7], A_XTICKS, A_TITLE, 493, 308, scale_label(493, 308))
pb = panel(B_POINTS + B_POINTS_2, BLUE, [0, 0.03], B_XTICKS, B_TITLE, 488, 311)
pc = panel(C_POINTS + C_POINTS_2, BLUE, [0, 1], C_XTICKS, C_TITLE, 492, 311)
pd_ = panel(D_POINTS + D_POINTS_2, ORANGE, [0.1, 0.6], D_XTICKS, D_TITLE, 495, 306)

chart = alt.concat(pa, pb, pc, pd_, columns=2, spacing={"row": 70, "column": 135}, bounds="flush").properties(
    padding={"left": 0, "top": 0, "right": 0, "bottom": 0}
).configure_view(stroke=AXC, strokeWidth=1).configure(background="white")

chart.save("out.html", embed_options={"renderer": "svg", "actions": False})
